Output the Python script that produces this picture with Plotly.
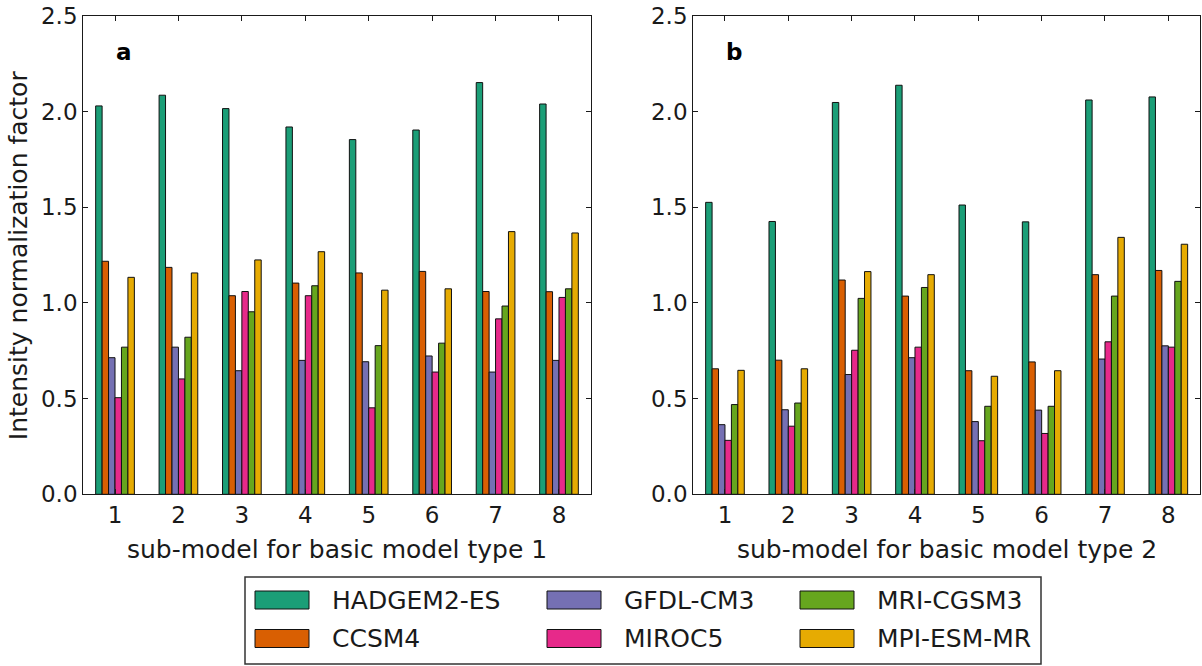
import plotly.graph_objects as go

# ---------------- data ----------------
sub_models = [1, 2, 3, 4, 5, 6, 7, 8]
series_names = ["HADGEM2-ES", "CCSM4", "GFDL-CM3", "MIROC5", "MRI-CGSM3", "MPI-ESM-MR"]
series_colors = ["#1b9e77", "#d95f02", "#7570b3", "#e7298a", "#66a61e", "#e6ab02"]

# panel a: basic model type 1
hadgem_a = [2.03, 2.086, 2.016, 1.92, 1.854, 1.904, 2.152, 2.04]
ccsm4_a = [1.218, 1.186, 1.038, 1.104, 1.157, 1.165, 1.06, 1.059]
gfdl_a = [0.714, 0.769, 0.646, 0.70, 0.693, 0.723, 0.639, 0.70]
miroc5_a = [0.505, 0.603, 1.06, 1.038, 0.452, 0.639, 0.917, 1.029]
mri_a = [0.769, 0.821, 0.954, 1.09, 0.777, 0.79, 0.984, 1.074]
mpi_a = [1.134, 1.157, 1.225, 1.268, 1.067, 1.074, 1.373, 1.366]

# panel b: basic model type 2
hadgem_b = [1.526, 1.426, 2.048, 2.138, 1.512, 1.424, 2.061, 2.077]
ccsm4_b = [0.656, 0.701, 1.12, 1.036, 0.646, 0.692, 1.148, 1.17]
gfdl_b = [0.364, 0.442, 0.626, 0.714, 0.38, 0.44, 0.707, 0.776]
miroc5_b = [0.282, 0.356, 0.753, 0.769, 0.28, 0.318, 0.797, 0.769]
mri_b = [0.469, 0.477, 1.024, 1.081, 0.46, 0.46, 1.036, 1.113]
mpi_b = [0.648, 0.656, 1.164, 1.148, 0.617, 0.646, 1.343, 1.307]

y_ticks = [0.0, 0.5, 1.0, 1.5, 2.0, 2.5]
y_tick_labels = ["0.0", "0.5", "1.0", "1.5", "2.0", "2.5"]
x_titles = ["sub-model for basic model type 1", "sub-model for basic model type 2"]
y_title = "Intensity normalization factor"
panel_letters = ["a", "b"]

panel_a = [hadgem_a, ccsm4_a, gfdl_a, miroc5_a, mri_a, mpi_a]
panel_b = [hadgem_b, ccsm4_b, gfdl_b, miroc5_b, mri_b, mpi_b]

# ---------------- layout helpers ----------------
W, H = 1202, 666
FONT = "DejaVu Sans"
INK = "#1a1a1a"


def px(x):
    return x / W


def py(y):
    return 1 - y / H


fig = go.Figure()

for panel_idx, panel in enumerate([panel_a, panel_b]):
    xa = "x" if panel_idx == 0 else "x2"
    ya = "y" if panel_idx == 0 else "y2"
    for name, color, vals in zip(series_names, series_colors, panel):
        fig.add_trace(go.Bar(
            x=sub_models, y=vals, name=name,
            marker=dict(color=color, line=dict(color="#111111", width=1)),
            xaxis=xa, yaxis=ya, showlegend=False,
        ))

# axis domains (pixel geometry of the reference)
left_a, right_a = 83.3, 590.7
left_b, right_b = 693.3, 1200.0
top_px, bottom_px = 16.0, 494.3

axis_common = dict(
    showline=True, linecolor=INK, linewidth=1.3, mirror="ticks",
    ticks="inside", ticklen=5, tickwidth=1, tickcolor=INK,
    showgrid=False, zeroline=False, automargin=False,
    tickfont=dict(family=FONT, size=23, color=INK),
)

fig.update_layout(
    width=W, height=H,
    margin=dict(l=0, r=0, t=0, b=0, pad=0, autoexpand=False),
    paper_bgcolor="white", plot_bgcolor="white",
    barmode="group", bargap=0.39, bargroupgap=0,
    showlegend=False,
    xaxis=dict(domain=[px(left_a), px(right_a)], range=[0.5, 8.5],
               tickvals=sub_models, anchor="y", **axis_common),
    yaxis=dict(domain=[py(bottom_px), py(top_px)], range=[0, 2.5],
               tickvals=y_ticks, ticktext=y_tick_labels, anchor="x", **axis_common),
    xaxis2=dict(domain=[px(left_b), px(right_b)], range=[0.5, 8.5],
                tickvals=sub_models, anchor="y2", **axis_common),
    yaxis2=dict(domain=[py(bottom_px), py(top_px)], range=[0, 2.5],
                tickvals=y_ticks, ticktext=y_tick_labels, anchor="x2", **axis_common),
)

annotations = []
shapes = []

# axis titles and panel letters
for i, (l, r) in enumerate([(left_a, right_a), (left_b, right_b)]):
    annotations.append(dict(
        text=x_titles[i], x=px((l + r) / 2), y=py(549), xref="paper", yref="paper",
        xanchor="center", yanchor="middle", showarrow=False,
        font=dict(family=FONT, size=25, color=INK)))
    annotations.append(dict(
        text="<b>%s</b>" % panel_letters[i], x=px(l + 31), y=py(52), xref="paper", yref="paper",
        xanchor="left", yanchor="middle", showarrow=False,
        font=dict(family=FONT, size=23, color="#000000")))

annotations.append(dict(
    text=y_title, x=px(18), y=py((top_px + bottom_px) / 2), xref="paper", yref="paper",
    xanchor="center", yanchor="middle", textangle=-90, showarrow=False,
    font=dict(family=FONT, size=25, color=INK)))

# legend (3 columns x 2 rows, column-major like the reference)
leg_left, leg_top, leg_right, leg_bottom = 245, 577, 1041, 664
col_x = [255, 547, 800]
row_y = [600, 638.5]
sym_w, sym_h, txt_gap = 54, 18, 21
shapes.append(dict(type="rect", xref="paper", yref="paper",
                   x0=px(leg_left), x1=px(leg_right), y0=py(leg_bottom), y1=py(leg_top),
                   line=dict(color="#333333", width=1.5), fillcolor="rgba(0,0,0,0)"))
for k, (name, color) in enumerate(zip(series_names, series_colors)):
    c, r = k // 2, k % 2
    x0 = col_x[c]
    yc = row_y[r]
    shapes.append(dict(type="rect", xref="paper", yref="paper",
                       x0=px(x0), x1=px(x0 + sym_w), y0=py(yc + sym_h / 2), y1=py(yc - sym_h / 2),
                       line=dict(color="#111111", width=1), fillcolor=color))
    annotations.append(dict(
        text=name, x=px(x0 + sym_w + txt_gap), y=py(yc), xref="paper", yref="paper",
        xanchor="left", yanchor="middle", showarrow=False,
        font=dict(family=FONT, size=25, color=INK)))

fig.update_layout(annotations=annotations, shapes=shapes)

fig.write_html("out.html")
